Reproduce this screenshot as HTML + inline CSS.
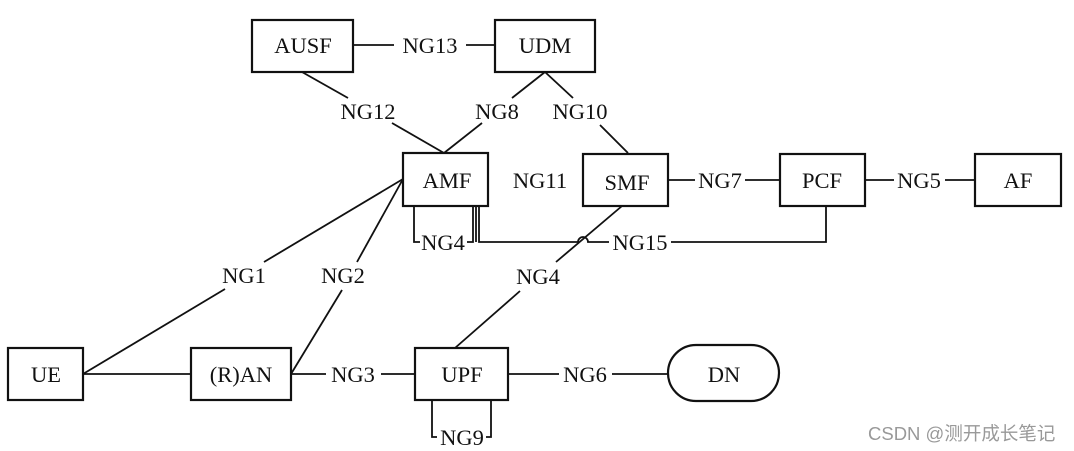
<!DOCTYPE html>
<html><head><meta charset="utf-8"><style>
html,body{margin:0;padding:0;background:#fff;}
svg{display:block}
text{font-family:"Liberation Serif",serif;font-size:22.5px;fill:#111;}
</style></head><body>
<svg width="1074" height="451" viewBox="0 0 1074 451" xmlns="http://www.w3.org/2000/svg">
<g stroke="#111" stroke-width="1.8" fill="none">
<line x1="353" y1="45" x2="394" y2="45"/><line x1="466" y1="45" x2="495" y2="45"/>
<line x1="302" y1="72" x2="348" y2="98"/><line x1="392" y1="123" x2="444" y2="153"/>
<line x1="545" y1="72" x2="512" y2="98"/><line x1="482" y1="123" x2="444" y2="153"/>
<line x1="545" y1="72" x2="573" y2="98"/><line x1="600" y1="125" x2="628" y2="153"/>
<line x1="668" y1="180" x2="695" y2="180"/><line x1="745" y1="180" x2="780" y2="180"/>
<line x1="865" y1="180" x2="894" y2="180"/><line x1="945" y1="180" x2="975" y2="180"/>
<line x1="403" y1="179" x2="264" y2="262"/><line x1="225" y1="289" x2="83" y2="374"/>
<line x1="403" y1="179" x2="357" y2="262"/><line x1="342" y1="290" x2="291" y2="374"/>
<line x1="83" y1="374" x2="191" y2="374"/>
<line x1="291" y1="374" x2="326" y2="374"/><line x1="381" y1="374" x2="415" y2="374"/>
<line x1="508" y1="374" x2="559" y2="374"/><line x1="612" y1="374" x2="668" y2="374"/>
<line x1="622" y1="206" x2="556" y2="262"/><line x1="520" y1="291" x2="455" y2="348"/>
<polyline points="414,206 414,242 420,242"/><polyline points="467,242 473,242 473,206"/>
<line x1="476" y1="206" x2="476" y2="242"/>
<path d="M479,206 V242 H578 a5,5 0 0 1 10,0 H609"/>
<polyline points="671,242 826,242 826,206"/>
<polyline points="432,400 432,437 437,437"/><polyline points="486,437 491,437 491,400"/>
<g stroke-width="2.2">
<rect x="252" y="20" width="101" height="52"/>
<rect x="495" y="20" width="100" height="52"/>
<rect x="403" y="153" width="85" height="53"/>
<rect x="583" y="154" width="85" height="52"/>
<rect x="780" y="154" width="85" height="52"/>
<rect x="975" y="154" width="86" height="52"/>
<rect x="8" y="348" width="75" height="52"/>
<rect x="191" y="348" width="100" height="52"/>
<rect x="415" y="348" width="93" height="52"/>
<rect x="668" y="345" width="111" height="56" rx="28"/>
</g>
</g>
<g text-anchor="middle">
<text x="303" y="53">AUSF</text><text x="545" y="53">UDM</text>
<text x="430" y="53">NG13</text>
<text x="368" y="119">NG12</text><text x="497" y="119">NG8</text><text x="580" y="119">NG10</text>
<text x="447" y="188">AMF</text><text x="540" y="188">NG11</text><text x="627" y="190">SMF</text>
<text x="720" y="188">NG7</text><text x="822" y="188">PCF</text><text x="919" y="188">NG5</text>
<text x="1018" y="188">AF</text>
<text x="443" y="250">NG4</text><text x="640" y="250">NG15</text>
<text x="244" y="283">NG1</text><text x="343" y="283">NG2</text><text x="538" y="284">NG4</text>
<text x="46" y="382">UE</text><text x="241" y="382">(R)AN</text><text x="353" y="382">NG3</text>
<text x="462" y="382">UPF</text><text x="585" y="382">NG6</text><text x="724" y="382">DN</text>
<text x="462" y="445">NG9</text>
</g>
<text x="868" y="440" style="font-family:'Liberation Sans','Noto Sans CJK SC',sans-serif;font-size:18.5px;fill:#999">CSDN @测开成长笔记</text>
</svg>
</body></html>
